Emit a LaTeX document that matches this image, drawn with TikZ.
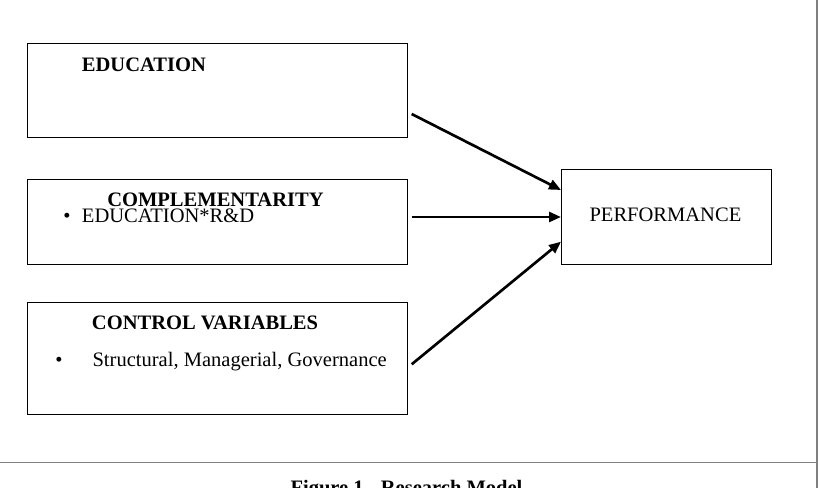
\documentclass[tikz,border=0pt]{standalone}
\usepackage{fontspec}
\setmainfont{Liberation Serif}
\usetikzlibrary{arrows.meta}

\tikzset{
  varbox/.style={draw, line width=0.8pt, inner sep=0pt, anchor=north west},
  infl/.style={line width=2pt, -{Triangle[length=9pt,width=7.5pt]}},
  frameline/.style={draw=gray, line width=0.8pt},
  lbl/.style={anchor=base west, inner sep=0pt, font=\fontsize{15.4}{18}\selectfont},
}

\begin{document}
\begin{tikzpicture}[x=0.75pt,y=0.75pt,yscale=-1,xscale=1]
\useasboundingbox (0,0) rectangle (819,488);
\clip (0,0) rectangle (819,488);

%Shape: Rectangle [id:edu]
\node[varbox, minimum width=285pt, minimum height=70pt] (edu) at (27,43.3) {};
%Shape: Rectangle [id:comp]
\node[varbox, minimum width=285pt, minimum height=64.2pt] (comp) at (27,178.7) {};
%Shape: Rectangle [id:ctrl]
\node[varbox, minimum width=285pt, minimum height=84.5pt] (ctrl) at (27,301.7) {};
%Shape: Rectangle [id:perf]
\node[varbox, minimum width=157.5pt, minimum height=71.3pt] (perf) at (561,169.3) {};

%Straight Lines [id:frame]
\draw[frameline] (817,0) coordinate (ftop) -- (817,488) coordinate (fbot);
\draw[frameline] (0,462.7) coordinate (fleft) -- (817,462.7) coordinate (fright);

%Straight Lines [id:arrows]
\coordinate (eduout) at (411.7,114);
\coordinate (compout) at (411.7,217);
\coordinate (ctrlout) at (411.7,364.3);
\coordinate (perfin1) at (561,190);
\coordinate (perfin2) at (561,217);
\coordinate (perfin3) at (561,241.7);
\draw[infl] (eduout) -- (perfin1);
\draw[infl] (compout) -- (perfin2);
\draw[infl] (ctrlout) -- (perfin3);

% Text Node
\node[lbl] (edutitle) at (81.7,71.7) {\bfseries EDUCATION};
% Text Node
\node[lbl] (comptitle) at (107,206.7) {\bfseries COMPLEMENTARITY};
% Text Node
\node[lbl] (compbul) at (63,222.3) {•};
% Text Node
\node[lbl] (compitem) at (81.7,222.3) {EDUCATION*R\&D};
% Text Node
\node[lbl] (ctrltitle) at (91.7,329.3) {\bfseries CONTROL VARIABLES};
% Text Node
\node[lbl] (ctrlbul) at (55,366.7) {•};
% Text Node
\node[lbl] (ctrlitem) at (92.3,366.7) {Structural, Managerial, Governance};
% Text Node
\node[lbl] (perftext) at (589.3,221.7) {PERFORMANCE};
% Text Node
\node[lbl, anchor=base] (caption) at (406.5,495) {\bfseries Figure 1 - Research Model};
\end{tikzpicture}
\end{document}
